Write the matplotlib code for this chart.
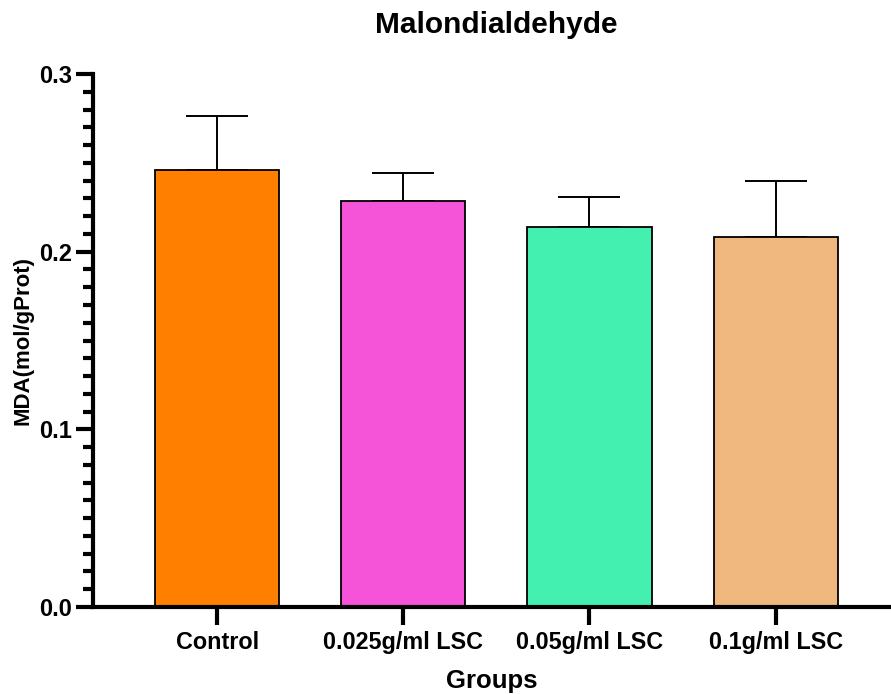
import numpy as np
import matplotlib.pyplot as plt
from matplotlib.ticker import MultipleLocator

plt.rcParams['font.family'] = ['Liberation Sans', 'DejaVu Sans']
plt.rcParams['font.weight'] = 'bold'

# Datos
grupos = ['Control', '0.025g/ml LSC', '0.05g/ml LSC', '0.1g/ml LSC']
medias = [0.246, 0.2285, 0.214, 0.2085]
errores = [0.0305, 0.0155, 0.0165, 0.031]
colores = ['#FF7F00', '#F553D8', '#43F0B0', '#F0B77F']

fig = plt.figure(figsize=(8.91, 6.94), dpi=100)
ax = fig.add_axes([93 / 891, 87 / 694, 1 - 93 / 891, 533 / 694])

x = np.arange(len(grupos))
ax.bar(x, medias, width=0.667, color=colores, edgecolor='black', linewidth=1.3, zorder=2)
ax.errorbar(x, medias, yerr=[np.zeros(len(errores)), errores], fmt='none',
            ecolor='black', elinewidth=1.4, capsize=22.5, capthick=1.4, zorder=1)

ax.set_xlim(-0.667, 3.62)
ax.set_ylim(0, 0.3)
ax.yaxis.set_major_locator(MultipleLocator(0.1))
ax.yaxis.set_minor_locator(MultipleLocator(0.01))
ax.set_yticks([0, 0.1, 0.2, 0.3], ['0.0', '0.1', '0.2', '0.3'])
ax.set_xticks(x, grupos)

for s in ['top', 'right']:
    ax.spines[s].set_visible(False)
for s in ['left', 'bottom']:
    ax.spines[s].set_linewidth(3)

ax.tick_params(axis='y', which='major', length=12, width=3, labelsize=17, pad=3)
ax.tick_params(axis='y', which='minor', length=7, width=3)
ax.tick_params(axis='x', which='major', length=13, width=3, labelsize=16.8, pad=4)

ax.set_ylabel('MDA(mol/gProt)', fontsize=16, fontweight='bold', labelpad=4)
ax.set_xlabel('Groups', fontsize=18.5, fontweight='bold', labelpad=11)
fig.text(496 / 891, 1 - 25 / 694, 'Malondialdehyde', fontsize=21.5, fontweight='bold',
         ha='center', va='center')

plt.savefig('out.png', dpi=100)
